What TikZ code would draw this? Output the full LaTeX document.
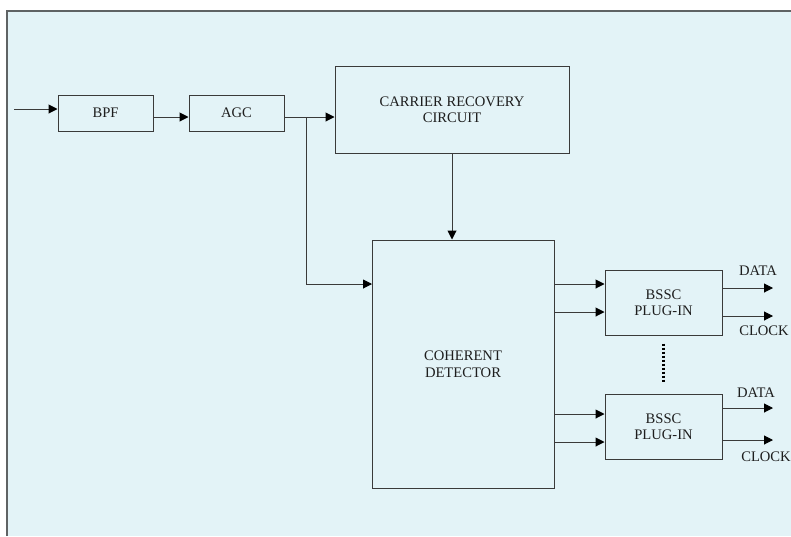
\documentclass[tikz,border=0pt]{standalone}
\usepackage{fontspec}
\setmainfont{Liberation Serif}
\usetikzlibrary{arrows.meta}
\definecolor{bgblue}{HTML}{E3F3F7}
\definecolor{framegray}{HTML}{5F6364}
\definecolor{linegray}{HTML}{3A3A3A}
\definecolor{textgray}{HTML}{1E1E1E}
\begin{document}
\begin{tikzpicture}[x=1pt,y=-1pt,
  blk/.style={draw=linegray,line width=1pt,fill=bgblue,inner sep=0pt,
    align=center,text=textgray,font=\fontsize{14.6}{16.5}\selectfont},
  conn/.style={draw=linegray,line width=1pt},
  arr/.style={conn,-{Triangle[length=9pt,width=9pt,color=black]}},
  lbl/.style={text=textgray,font=\fontsize{14.6}{16.5}\selectfont,inner sep=0pt}]
\useasboundingbox (0,0) rectangle (791,536);
\fill[white] (0,0) rectangle (791,536);
\fill[bgblue] (6,10) rectangle (791,536);
\draw[framegray,line width=2pt] (6.5,536) -- (6.5,10.5) -- (791,10.5);

\node[blk,minimum width=95pt,minimum height=36pt] (BPF) at (105.5,113) {BPF};
\node[blk,minimum width=95pt,minimum height=36pt] (AGC) at (236.5,113) {AGC};
\node[blk,minimum width=234pt,minimum height=87pt] (CRC) at (452,109.5) {CARRIER RECOVERY\\CIRCUIT};
\node[blk,minimum width=182pt,minimum height=248pt] (COH) at (463,364) {COHERENT\\DETECTOR};
\node[blk,minimum width=117pt,minimum height=65pt] (B1) at (663.5,302.5) {BSSC\\PLUG-IN};
\node[blk,minimum width=117pt,minimum height=65pt] (B2) at (663.5,426.5) {BSSC\\PLUG-IN};

\coordinate (in) at (14,109);
\draw[arr] (in) -- (in -| BPF.west);
\draw[arr] ([yshift=-4pt]BPF.east) -- ([yshift=-4pt]AGC.west);
\draw[arr] ([yshift=-4pt]AGC.east) -- ([yshift=-7.5pt]CRC.west);
\coordinate (br) at (306,117);
\coordinate (cohin) at (372,284);
\draw[arr] (br) |- (cohin);
\draw[arr] (CRC.south) -- (CRC.south |- COH.north);

% coherent -> BSSC 1
\draw[arr] ([yshift=18.5pt]B1.west -| COH.east) -- ([yshift=18.5pt]B1.west);
\draw[arr] ([yshift=-9.5pt]B1.west -| COH.east) -- ([yshift=-9.5pt]B1.west);
% coherent -> BSSC 2
\draw[arr] ([yshift=12.5pt]B2.west -| COH.east) -- ([yshift=12.5pt]B2.west);
\draw[arr] ([yshift=-15.5pt]B2.west -| COH.east) -- ([yshift=-15.5pt]B2.west);

% outputs
\coordinate (o1d) at (773,288);
\coordinate (o1c) at (773,316);
\coordinate (o2d) at (773,408);
\coordinate (o2c) at (773,440);
\draw[arr] (B1.east |- o1d) -- (o1d);
\draw[arr] (B1.east |- o1c) -- (o1c);
\draw[arr] (B2.east |- o2d) -- (o2d);
\draw[arr] (B2.east |- o2c) -- (o2c);
\node[lbl] (d1) at (758,271) {DATA};
\node[lbl] (c1) at (764,331) {CLOCK};
\node[lbl] (d2) at (756,393) {DATA};
\node[lbl] (c2) at (766,457) {CLOCK};

% dotted continuation
\draw[black,line width=2.6pt,dash pattern=on 2.4pt off 1.6pt]
  ([yshift=-8pt]B1.south) -- ([yshift=11pt]B2.north);
\end{tikzpicture}
\end{document}
